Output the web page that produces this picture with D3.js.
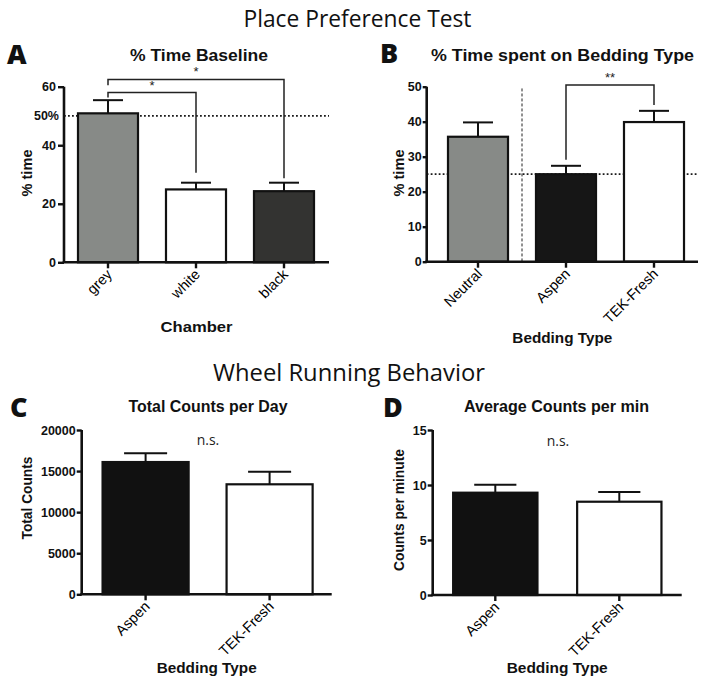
<!DOCTYPE html>
<html>
<head>
<meta charset="utf-8">
<script src="https://cdn.jsdelivr.net/npm/d3@7"></script>
<style>
  html, body { margin: 0; padding: 0; background: #fff; }
  svg { display: block; }
</style>
</head>
<body>
<svg id="chart" width="714" height="694"></svg>
<script>
// ---------- DATA ----------
const chamberCategories = ["grey", "white", "black"];
const chamberMeans = [50.9, 24.9, 24.3];
const chamberSEM = [4.5, 2.3, 2.9];
const chamberTicks = [0, 20, 40, 60];

const beddingCategories = ["Neutral", "Aspen", "TEK-Fresh"];
const beddingMeans = [35.7, 25.0, 39.9];
const beddingSEM = [4.1, 2.4, 3.2];
const beddingTicks = [0, 10, 20, 30, 40, 50];

const wheelCategories = ["Aspen", "TEK-Fresh"];
const totalCountsMeans = [16100, 13390];
const totalCountsSEM = [1060, 1535];
const totalCountsTicks = [0, 5000, 10000, 15000, 20000];

const perMinMeans = [9.3, 8.48];
const perMinSEM = [0.73, 0.88];
const perMinTicks = [0, 5, 10, 15];

// significance brackets: [fromIndex, toIndex, level, leftEnd, rightEnd, label]
const chamberBrackets = [
  [0, 2, 62.5, 60.5, 28.7, "*"],
  [0, 1, 58.0, 56.3, 30.6, "*"]
];
const beddingBrackets = [
  [1, 2, 50.5, 29.1, 44.8, "**"]
];

// ---------- DRAW ----------
const svg = d3.select("#chart");
const FONT = "'Liberation Sans', Arial, Helvetica, sans-serif";
const FONT2 = "'Open Sans', 'Noto Sans', sans-serif";

function fitText(sel, len) {
  if (len) sel.attr("textLength", len).attr("lengthAdjust", "spacingAndGlyphs");
  return sel;
}

function panel(o) {
  const g = svg.append("g");
  const x = d3.scaleBand().domain(o.cats).range(o.xRange)
    .paddingInner(o.padIn).paddingOuter(o.padIn / 2);
  const y = d3.scaleLinear().domain(o.yDomain).range(o.yRange);
  const bw = x.bandwidth();

  if (o.refLine != null) {
    g.append("line")
      .attr("x1", o.axisX).attr("x2", o.xEnd)
      .attr("y1", y(o.refLine)).attr("y2", y(o.refLine))
      .attr("stroke", "#1a1a1a").attr("stroke-width", 1.7)
      .attr("stroke-dasharray", "1.8,2.2");
  }
  if (o.sepAfter != null) {
    const a = x(o.cats[o.sepAfter]) + bw / 2, b = x(o.cats[o.sepAfter + 1]) + bw / 2;
    g.append("line")
      .attr("x1", (a + b) / 2).attr("x2", (a + b) / 2)
      .attr("y1", y(o.sepTop)).attr("y2", y(0))
      .attr("stroke", "#222").attr("stroke-width", 1)
      .attr("stroke-dasharray", "3,2");
  }

  o.cats.forEach((c, i) => {
    const cx = x(c) + bw / 2;
    g.append("line").attr("x1", cx).attr("x2", cx)
      .attr("y1", y(o.means[i])).attr("y2", y(o.means[i] + o.sem[i]))
      .attr("stroke", "#111").attr("stroke-width", 2);
    g.append("line").attr("x1", cx - bw / 4).attr("x2", cx + bw / 4)
      .attr("y1", y(o.means[i] + o.sem[i])).attr("y2", y(o.means[i] + o.sem[i]))
      .attr("stroke", "#111").attr("stroke-width", 2);
  });

  g.selectAll("rect.bar").data(o.cats).enter().append("rect")
    .attr("class", "bar")
    .attr("x", d => x(d))
    .attr("y", (d, i) => y(o.means[i]))
    .attr("width", bw)
    .attr("height", (d, i) => y(0) - y(o.means[i]))
    .attr("fill", (d, i) => o.colors[i])
    .attr("stroke", "#111").attr("stroke-width", 2.2);

  (o.brackets || []).forEach(b => {
    const x1 = x(o.cats[b[0]]) + bw / 2, x2 = x(o.cats[b[1]]) + bw / 2;
    const yl = y(b[2]);
    g.append("path")
      .attr("d", `M${x1},${y(b[3])}V${yl}H${x2}V${y(b[4])}`)
      .attr("fill", "none").attr("stroke", "#222").attr("stroke-width", 1.5);
    g.append("text").attr("x", (x1 + x2) / 2).attr("y", yl - 3)
      .attr("text-anchor", "middle")
      .style("font-family", FONT).style("font-size", "13px")
      .attr("fill", "#222").text(b[5]);
  });

  const ya = g.append("g").attr("transform", `translate(${o.axisX},0)`)
    .call(d3.axisLeft(y).tickValues(o.ticks).tickSize(o.tickLen || 6)
      .tickPadding(o.tickPad != null ? o.tickPad : 2).tickFormat(d3.format("d")));
  ya.select(".domain").attr("stroke", "#111").attr("stroke-width", 2.6)
    .attr("d", `M0,${y(o.yDomain[1])}V${y(0)}`);
  ya.selectAll(".tick line").attr("stroke", "#111").attr("stroke-width", 2.4);
  ya.selectAll(".tick text").style("font-family", FONT).style("font-size", "12.5px")
    .style("font-weight", "bold").attr("fill", "#111");

  const xa = g.append("g").attr("transform", `translate(0,${y(0)})`)
    .call(d3.axisBottom(x).tickSize(6).tickSizeOuter(0).tickFormat(""));
  xa.select(".domain").attr("stroke", "#111").attr("stroke-width", 2.6)
    .attr("d", `M${o.axisX - 1.3},0H${o.xEnd}`);
  xa.selectAll(".tick line").attr("stroke", "#111").attr("stroke-width", 2.4);
  xa.selectAll(".tick").append("text")
    .attr("text-anchor", "end")
    .attr("transform", "translate(5,13) rotate(-45)")
    .style("font-family", FONT).style("font-size", "14.5px")
    .attr("fill", "#000")
    .text(d => d);

  if (o.refLabel) {
    g.append("text").attr("x", o.axisX - 5).attr("y", y(o.refLine) + 4.5)
      .attr("text-anchor", "end")
      .style("font-family", FONT).style("font-size", "12.5px").style("font-weight", "bold")
      .attr("fill", "#111").text(o.refLabel);
  }

  fitText(g.append("text").attr("x", o.titleX).attr("y", o.titleY).attr("text-anchor", "middle")
    .style("font-family", FONT).style("font-size", o.titleSize).style("font-weight", "bold")
    .attr("fill", "#111").text(o.title), o.titleLen);
  g.append("text").attr("x", o.letterX).attr("y", o.letterY)
    .style("font-family", FONT2).style("font-size", "27px").style("font-weight", "800")
    .attr("fill", "#111").text(o.letter);
  fitText(g.append("text").attr("transform", `translate(${o.yLabX},${o.yLabY}) rotate(-90)`)
    .attr("text-anchor", "middle")
    .style("font-family", FONT).style("font-size", "14.5px").style("font-weight", "bold")
    .attr("fill", "#111").text(o.yLabel), o.yLabLen);
  fitText(g.append("text").attr("x", (o.axisX + o.xEnd) / 2).attr("y", o.xLabY).attr("text-anchor", "middle")
    .style("font-family", FONT).style("font-size", "15.5px").style("font-weight", "bold")
    .attr("fill", "#111").text(o.xLabel), o.xLabLen);
  if (o.ns) {
    g.append("text").attr("x", o.nsX).attr("y", o.nsY).attr("text-anchor", "middle")
      .style("font-family", FONT2).style("font-size", "14px")
      .attr("fill", "#222").text(o.ns);
  }
}

svg.append("text").attr("x", 357.5).attr("y", 27.3).attr("text-anchor", "middle")
  .attr("textLength", 228).attr("lengthAdjust", "spacingAndGlyphs")
  .style("font-family", FONT2).style("font-size", "24px").attr("fill", "#111")
  .text("Place Preference Test");
svg.append("text").attr("x", 349).attr("y", 381).attr("text-anchor", "middle")
  .attr("textLength", 272).attr("lengthAdjust", "spacingAndGlyphs")
  .style("font-family", FONT2).style("font-size", "24px").attr("fill", "#111")
  .text("Wheel Running Behavior");

panel({
  cats: chamberCategories, means: chamberMeans, sem: chamberSEM, ticks: chamberTicks,
  colors: ["#878a87", "#ffffff", "#333331"],
  xRange: [64, 328], padIn: 0.318, axisX: 64, xEnd: 329,
  yDomain: [0, 60], yRange: [262.3, 86.7],
  refLine: 50, refLabel: "50%",
  brackets: chamberBrackets,
  title: "% Time Baseline", titleX: 199, titleY: 61, titleSize: "17px", titleLen: 138,
  letter: "A", letterX: 7, letterY: 64,
  yLabel: "% time", yLabX: 32, yLabY: 173, yLabLen: 47,
  xLabel: "Chamber", xLabY: 332, xLabLen: 72
});

panel({
  cats: beddingCategories, means: beddingMeans, sem: beddingSEM, ticks: beddingTicks,
  colors: ["#878a87", "#161616", "#ffffff"],
  xRange: [434, 698], padIn: 0.318, axisX: 426.7, xEnd: 698,
  yDomain: [0, 50], yRange: [261.7, 86.7],
  refLine: 25, sepAfter: 0, sepTop: 49.5,
  brackets: beddingBrackets, tickLen: 4, tickPad: 1,
  title: "% Time spent on Bedding Type", titleX: 562.5, titleY: 61, titleSize: "17px", titleLen: 263,
  letter: "B", letterX: 380, letterY: 63,
  yLabel: "% time", yLabX: 404, yLabY: 173, yLabLen: 47,
  xLabel: "Bedding Type", xLabY: 343, xLabLen: 100
});

panel({
  cats: wheelCategories, means: totalCountsMeans, sem: totalCountsSEM, ticks: totalCountsTicks,
  colors: ["#111111", "#ffffff"],
  xRange: [83.6, 331.6], padIn: 0.306, axisX: 81.7, xEnd: 331.7,
  yDomain: [0, 20000], yRange: [594.3, 430],
  tickLen: 5, tickPad: 1,
  title: "Total Counts per Day", titleX: 208, titleY: 412, titleSize: "16px", titleLen: 159,
  letter: "C", letterX: 10, letterY: 417,
  yLabel: "Total Counts", yLabX: 32, yLabY: 498, yLabLen: 83,
  xLabel: "Bedding Type", xLabY: 673, xLabLen: 100,
  ns: "n.s.", nsX: 208, nsY: 445
});

panel({
  cats: wheelCategories, means: perMinMeans, sem: perMinSEM, ticks: perMinTicks,
  colors: ["#111111", "#ffffff"],
  xRange: [433.3, 681.3], padIn: 0.32, axisX: 432.7, xEnd: 681.7,
  yDomain: [0, 15], yRange: [595, 430],
  tickLen: 5, tickPad: 1,
  title: "Average Counts per min", titleX: 556.5, titleY: 412, titleSize: "16px", titleLen: 185,
  letter: "D", letterX: 383, letterY: 417,
  yLabel: "Counts per minute", yLabX: 404, yLabY: 510, yLabLen: 122,
  xLabel: "Bedding Type", xLabY: 673, xLabLen: 101,
  ns: "n.s.", nsX: 558, nsY: 446
});
</script>
</body>
</html>
